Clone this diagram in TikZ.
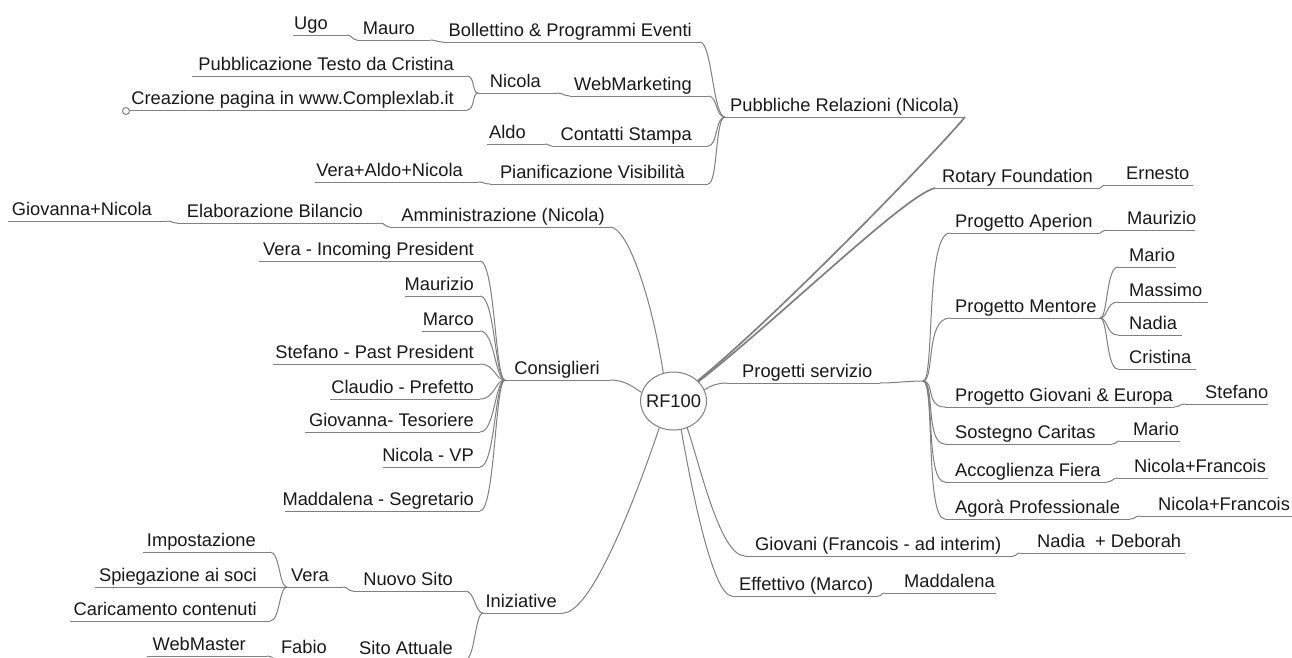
\documentclass[tikz,border=0pt]{standalone}
\usepackage{fontspec}
\setmainfont{Liberation Sans}
\usetikzlibrary{shapes.geometric}
\definecolor{lncol}{RGB}{128,128,128}
\definecolor{txcol}{RGB}{25,25,25}
\tikzset{
  tx/.style={inner sep=0pt, text=txcol, font=\fontsize{18.3}{22}\selectfont},
  ln/.style={draw=lncol, line width=1pt},
  rootln/.style={draw=lncol, line width=1.7pt},
}
% name, anchor side, text x, underline x1, underline x2, underline y, text
\newcommand\MN[7]{%
  \node[tx,anchor=base #2] (#1) at (#3,#6-6) {#7};
  \coordinate (#1L) at (#4,#6);
  \coordinate (#1R) at (#5,#6);
  \draw[ln] (#1L) -- (#1R);}
\newcommand\edg[4]{\draw[ln] (#1) .. controls +(#3,0) and +(-#4,0) .. (#2);}
\begin{document}
\begin{tikzpicture}[x=1pt,y=-1pt]
\fill[white] (0,0) rectangle (1292,657);
\useasboundingbox (0,0) rectangle (1292,657);
\clip (0,0) rectangle (1292,657);

% root
\node[tx, ellipse, draw=lncol, line width=1pt, inner xsep=-14pt, inner ysep=0pt, minimum width=66pt, minimum height=58pt] (rf) at (673.5,401) {RF100};

% Pubbliche Relazioni
\MN{pr}{west}{730}{725}{965}{117}{Pubbliche Relazioni (Nicola)}
\MN{bol}{east}{692}{443}{700}{42}{Bollettino \& Programmi Eventi}
\MN{mau}{east}{415}{357}{430}{40}{Mauro}
\MN{ugo}{east}{328}{293}{347}{35}{Ugo}
\MN{web}{east}{692}{570}{708}{96}{WebMarketing}
\MN{nicw}{east}{541}{478}{557}{93}{Nicola}
\MN{pub}{east}{454}{192}{467}{76}{Pubblicazione Testo da Cristina}
\MN{cre}{east}{454}{130}{467}{110}{Creazione pagina in www.Complexlab.it}
\MN{con}{east}{692}{552}{708}{146}{Contatti Stampa}
\MN{ald}{east}{526}{487}{545}{144}{Aldo}
\MN{pia}{east}{685}{490}{708}{184}{Pianificazione Visibilità}
\MN{van}{east}{463}{315}{478}{182}{Vera+Aldo+Nicola}
\node[circle, draw=lncol, line width=1pt, minimum size=7pt, inner sep=0pt] (fold) at (126,111) {};

% Amministrazione
\MN{amm}{east}{605}{390}{610}{227}{Amministrazione (Nicola)}
\MN{ela}{east}{363}{177}{380}{223}{Elaborazione Bilancio}
\MN{gn}{east}{152}{8}{167}{221}{Giovanna+Nicola}

% Consiglieri
\MN{cns}{east}{600}{505}{610}{380}{Consiglieri}
\MN{ca}{east}{474}{259}{480}{261}{Vera - Incoming President}
\MN{cb}{east}{474}{405}{480}{296}{Maurizio}
\MN{cc}{east}{474}{422}{480}{331}{Marco}
\MN{cd}{east}{474}{273}{480}{364}{Stefano - Past President}
\MN{ce}{east}{474}{330}{480}{399}{Claudio - Prefetto}
\MN{cf}{east}{474}{305}{480}{432}{Giovanna- Tesoriere}
\MN{cg}{east}{474}{383}{480}{467}{Nicola - VP}
\MN{ch}{east}{474}{285}{480}{511}{Maddalena - Segretario}

% Iniziative
\MN{ini}{east}{557}{483}{563}{613}{Iniziative}
\MN{nuo}{east}{453}{353}{465}{591}{Nuovo Sito}
\MN{ven}{east}{329}{287}{343}{587}{Vera}
\MN{imp}{east}{256}{143}{270}{552}{Impostazione}
\MN{spi}{east}{257}{95}{280}{587}{Spiegazione ai soci}
\MN{car}{east}{257}{70}{270}{621}{Caricamento contenuti}
\MN{sit}{east}{453}{353}{465}{660}{Sito Attuale}
\MN{fab}{east}{327}{277}{343}{659}{Fabio}
\MN{wm}{east}{246}{147}{267}{656}{WebMaster}

% right side
\MN{ps}{west}{742}{727}{880}{383}{Progetti servizio}
\coordinate (psf) at (923,381);
\MN{rot}{west}{942}{935}{1100}{188}{Rotary Foundation}
\MN{ern}{west}{1126}{1104}{1193}{185}{Ernesto}
\MN{ape}{west}{955}{950}{1100}{233}{Progetto Aperion}
\MN{mzr}{west}{1127}{1105}{1195}{230}{Maurizio}
\MN{men}{west}{955}{950}{1100}{318}{Progetto Mentore}
\MN{ma}{west}{1129}{1118}{1176}{267}{Mario}
\MN{mb}{west}{1129}{1118}{1208}{302}{Massimo}
\MN{mc}{west}{1129}{1118}{1182}{335}{Nadia}
\MN{md}{west}{1129}{1118}{1196}{369}{Cristina}
\MN{pge}{west}{955}{945}{1174}{407}{Progetto Giovani \& Europa}
\MN{ste}{west}{1205}{1185}{1268}{404}{Stefano}
\MN{sos}{west}{955}{945}{1112}{444}{Sostegno Caritas}
\MN{mar}{west}{1133}{1120}{1180}{441}{Mario}
\MN{acc}{west}{955}{945}{1107}{482}{Accoglienza Fiera}
\MN{nfa}{west}{1134}{1118}{1268}{478}{Nicola+Francois}
\MN{ago}{west}{955}{945}{1130}{519}{Agorà Professionale}
\MN{nfb}{west}{1158}{1140}{1292}{516}{Nicola+Francois}
\MN{gio}{west}{755}{745}{1013}{556}{Giovani (Francois - ad interim)}
\MN{nd}{west}{1037}{1020}{1185}{553}{Nadia~ + Deborah}
\MN{eff}{west}{739}{732}{878}{596}{Effettivo (Marco)}
\MN{mad}{west}{904}{885}{996}{593}{Maddalena}

% root connectors
\draw[rootln] (rf.40) .. controls (775,318) and (938,150) .. (prR);
\draw[rootln] (rf.38) .. controls (775,322) and (905,195) .. (rotL);
\draw[ln] (rf.20) .. controls (712,385) and (718,383) .. (psL);
\draw[ln] (rf.297) .. controls (700,465) and (720,556) .. (gioL);
\draw[ln] (rf.285) .. controls (690,480) and (712,596) .. (effL);
\draw[ln] (ammR) .. controls (628,227) and (652,300) .. (rf.110);
\draw[ln] (cnsR) .. controls (625,380) and (633,387) .. (rf.165);
\draw[ln] (iniR) .. controls (595,613) and (645,470) .. (rf.242);

% left connectors
\edg{bolR}{prL}{12}{12}
\edg{webR}{prL}{10}{10}
\edg{conR}{prL}{10}{10}
\edg{piaR}{prL}{10}{10}
\edg{mauR}{bolL}{6}{6}
\edg{ugoR}{mauL}{5}{5}
\edg{nicwR}{webL}{6}{6}
\edg{pubR}{nicwL}{8}{6}
\edg{creR}{nicwL}{8}{6}
\edg{aldR}{conL}{4}{4}
\edg{vanR}{piaL}{6}{6}
\edg{elaR}{ammL}{5}{5}
\edg{gnR}{elaL}{5}{5}
\edg{caR}{cnsL}{15}{10}
\edg{cbR}{cnsL}{15}{10}
\edg{ccR}{cnsL}{15}{10}
\edg{cdR}{cnsL}{15}{10}
\edg{ceR}{cnsL}{15}{10}
\edg{cfR}{cnsL}{15}{10}
\edg{cgR}{cnsL}{15}{10}
\edg{chR}{cnsL}{15}{10}
\edg{nuoR}{iniL}{10}{8}
\edg{sitR}{iniL}{10}{8}
\edg{venR}{nuoL}{6}{6}
\edg{impR}{venL}{10}{8}
\edg{spiR}{venL}{3}{3}
\edg{carR}{venL}{10}{8}
\edg{fabR}{sitL}{6}{6}
\edg{wmR}{fabL}{6}{6}

% right connectors
\edg{psR}{psf}{15}{15}
\edg{psf}{apeL}{12}{25}
\edg{psf}{menL}{12}{25}
\edg{psf}{pgeL}{12}{20}
\edg{psf}{sosL}{12}{20}
\edg{psf}{accL}{12}{20}
\edg{psf}{agoL}{12}{20}
\edg{rotR}{ernL}{3}{3}
\edg{apeR}{mzrL}{3}{3}
\edg{menR}{maL}{8}{12}
\edg{menR}{mbL}{8}{12}
\edg{menR}{mcL}{8}{12}
\edg{menR}{mdL}{8}{12}
\edg{pgeR}{steL}{6}{6}
\edg{sosR}{marL}{5}{5}
\edg{accR}{nfaL}{6}{6}
\edg{agoR}{nfbL}{6}{6}
\edg{gioR}{ndL}{4}{4}
\edg{effR}{madL}{4}{4}
\end{tikzpicture}
\end{document}
